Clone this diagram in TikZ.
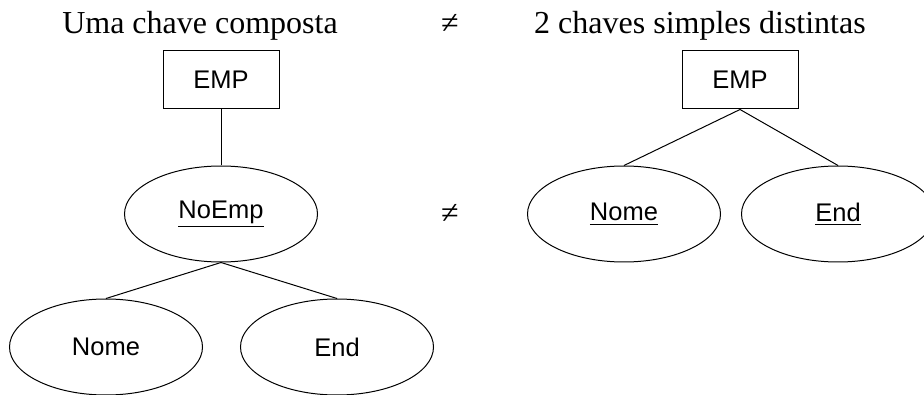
\documentclass[tikz,border=0pt]{standalone}
\usepackage{fontspec}
\setmainfont{Liberation Serif}
\newfontfamily\labelfont{Liberation Sans}
\usetikzlibrary{shapes.geometric}
\newcommand{\ulabel}[1]{\leavevmode\vtop{\hbox{#1}\kern2.8pt\hrule height 1.2pt}}
\begin{document}
\begin{tikzpicture}[x=1pt,y=-1pt,line width=1pt,
  entbox/.style={draw,rectangle,minimum width=116pt,minimum height=58pt,inner sep=0pt,font=\labelfont\fontsize{25.5}{30}\selectfont},
  attr/.style={draw,ellipse,minimum width=193pt,minimum height=96pt,inner sep=0pt,font=\labelfont\fontsize{25.5}{30}\selectfont},
  ttl/.style={inner sep=0pt,font=\fontsize{32}{38}\selectfont,anchor=base}]
\useasboundingbox (0,0) rectangle (924,395);
% titles
\node[ttl] (t1) at (200,34) {Uma chave composta};
\node[ttl] (neq1) at (450,34) {≠};
\node[ttl] (t2) at (700,34) {2 chaves simples distintas};
% left tree
\node[entbox] (emp1) at (221,80) {EMP};
\node[attr] (noemp) at (221,214) {\ulabel{NoEmp}};
\node[attr] (nome1) at (106,347) {Nome};
\node[attr] (end1) at (337,347) {End};
\draw (emp1.south) -- (noemp.north);
\draw (noemp.south) -- (nome1.north);
\draw (noemp.south) -- (end1.north);
% middle
\node[ttl] (neq2) at (450,224) {≠};
% right tree
\node[entbox] (emp2) at (740,80) {EMP};
\node[attr] (nome2) at (624,214) {\ulabel{Nome}};
\node[attr] (end2) at (838,214) {\ulabel{End}};
\draw (emp2.south) -- (nome2.north);
\draw (emp2.south) -- (end2.north);
\end{tikzpicture}
\end{document}
